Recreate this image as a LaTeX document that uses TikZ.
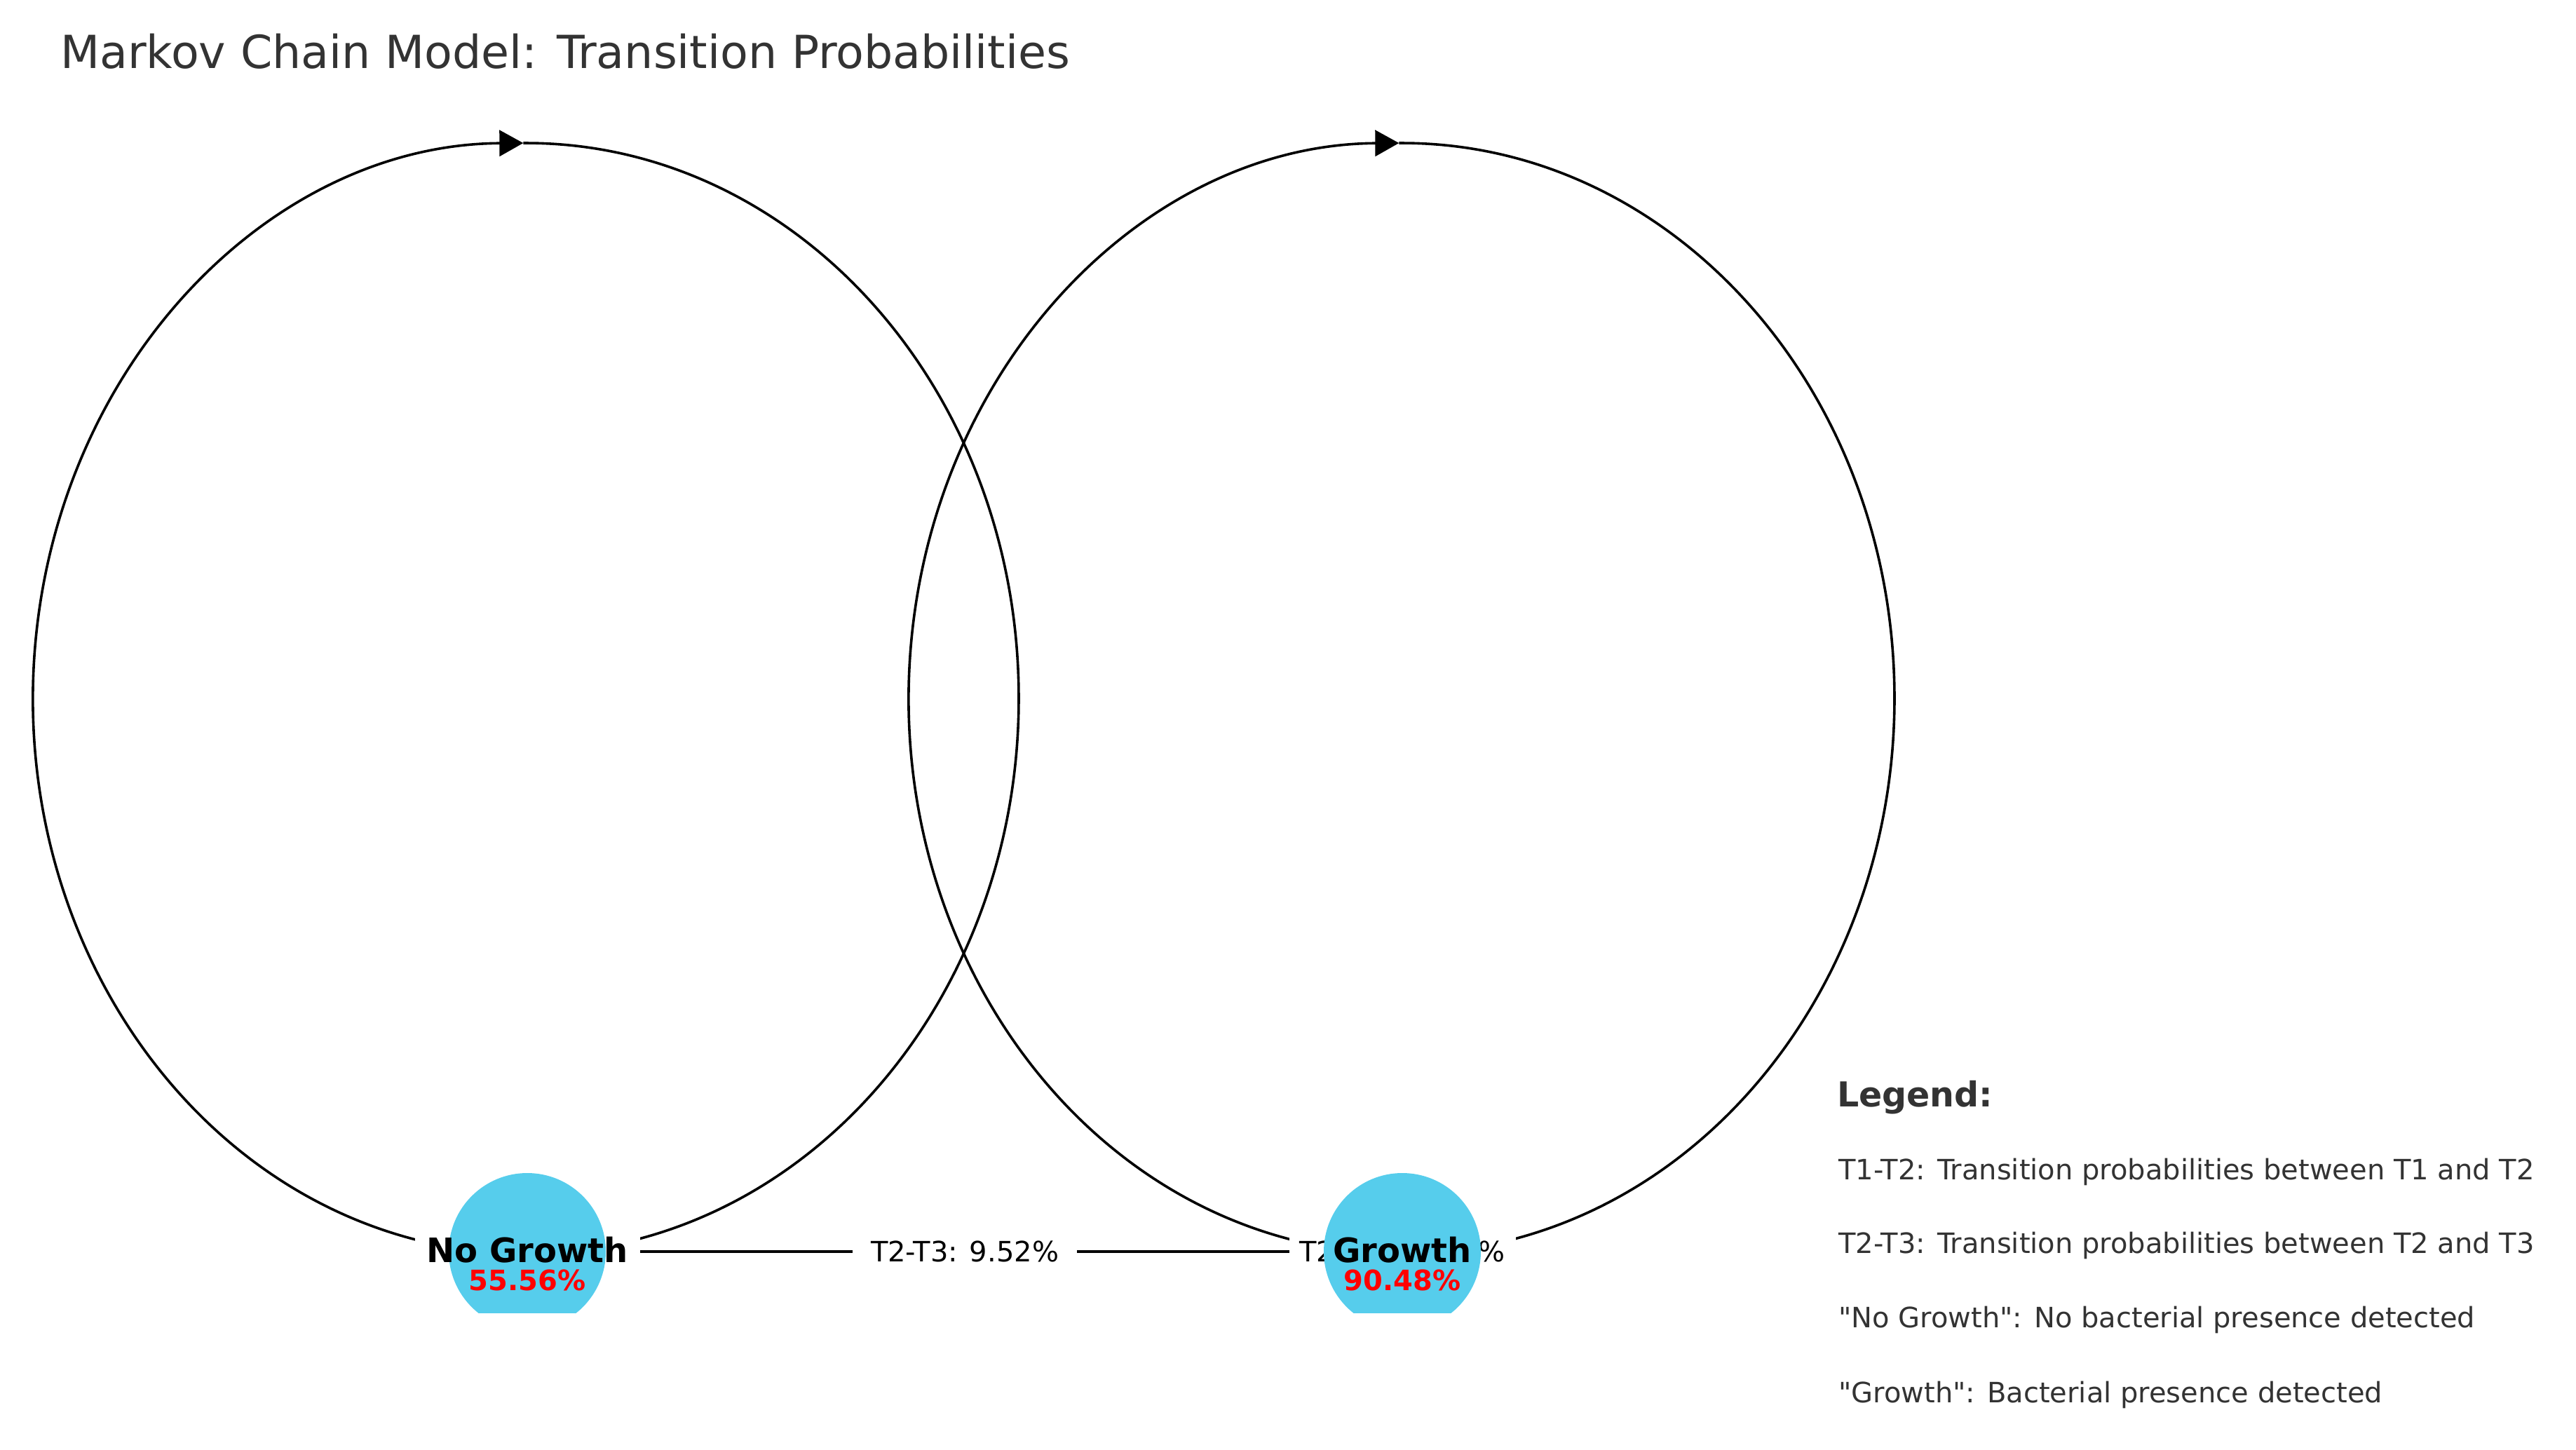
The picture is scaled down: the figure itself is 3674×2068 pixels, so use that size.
\documentclass[tikz,border=0pt]{standalone}
\usepackage{fontspec}
\setmainfont{DejaVu Sans}
\usetikzlibrary{arrows.meta,calc}
\definecolor{nodeblue}{RGB}{86,205,236}
\definecolor{txtgray}{RGB}{51,51,51}
\pgfdeclarelayer{bgfill}
\pgfdeclarelayer{edges}
\pgfsetlayers{bgfill,edges,main}
\begin{document}
\begin{tikzpicture}[x=1pt,y=-1pt,
  statenode/.style={circle, fill=nodeblue, minimum size=224pt, inner sep=0pt},
  nametext/.style={font=\fontsize{48}{52}\selectfont\bfseries, text=black, anchor=base, inner sep=0pt},
  pcttext/.style={font=\fontsize{40}{44}\selectfont\bfseries, text=red, anchor=base, inner sep=0pt},
  edgelabel/.style={fill=white, font=\fontsize{40}{44}\selectfont, text=black, inner sep=0pt, minimum height=60pt},
  conn/.style={line width=4pt, black},
  looparc/.style={line width=3.6pt, black},
  titletext/.style={font=\fontsize{65}{70}\selectfont, text=txtgray, anchor=base west, inner sep=0pt},
  legendtitle/.style={font=\fontsize{49}{54}\selectfont\bfseries, text=txtgray, anchor=base west, inner sep=0pt},
  legendtext/.style={font=\fontsize{40}{44}\selectfont, text=txtgray, anchor=base west, inner sep=0pt}]
\begin{pgfonlayer}{bgfill}
  \fill[white] (0,0) rectangle (3674,2068);
\end{pgfonlayer}
\useasboundingbox (0,0) rectangle (3674,2068);

\node[titletext] (title) at (86,98) {Markov Chain Model: Transition Probabilities};

% state nodes (clipped at the bottom like the reference)
\begin{scope}
  \clip (0,0) rectangle (3674,1872);
  \node[statenode] (ng) at (752,1785) {};
  \node[statenode] (gr) at (2000,1785) {};
\end{scope}
\node[nametext] (ngname) at (752,1800) {No Growth};
\node[pcttext] (ngpct) at (752,1840) {55.56\%};
\node[nametext] (grname) at (2000,1800) {Growth};
\node[pcttext] (grpct) at (2000,1840) {90.48\%};

\coordinate (cL) at ($(ng)+(-2,-789)$);
\coordinate (cR) at ($(gr)+(-1,-789)$);

\begin{pgfonlayer}{edges}
  % self loops
  \draw[looparc, -{Triangle[length=34pt,width=37pt]}] ([shift={(100:703 and 792)}]cL) arc[start angle=100, end angle=269.7, x radius=703, y radius=792];
  \draw[looparc] ([shift={(269.7:703 and 792)}]cL) arc[start angle=269.7, end angle=440, x radius=703, y radius=792];
  \draw[looparc, -{Triangle[length=34pt,width=37pt]}] ([shift={(100:703 and 792)}]cR) arc[start angle=100, end angle=269.7, x radius=703, y radius=792];
  \draw[looparc] ([shift={(269.7:703 and 792)}]cR) arc[start angle=269.7, end angle=440, x radius=703, y radius=792];
  % edge between states
  \draw[conn] (ng) -- node[edgelabel, minimum width=320pt] (lab) {T2-T3: 9.52\%} (gr);
  % loop labels
  \node[edgelabel, minimum width=321pt] (nglab) at (ng) {};
  \node[edgelabel, minimum width=323pt] (grlab) at (gr) {T2-T3: 90.48\%};
\end{pgfonlayer}

% legend
\node[legendtitle] (leg) at (2620,1578) {Legend:};
\node[legendtext] (l1) at (2622,1682) {T1-T2: Transition probabilities between T1 and T2};
\node[legendtext] (l2) at (2622,1787) {T2-T3: Transition probabilities between T2 and T3};
\node[legendtext] (l3) at (2622,1893) {\textquotedbl No Growth\textquotedbl: No bacterial presence detected};
\node[legendtext] (l4) at (2622,2000) {\textquotedbl Growth\textquotedbl: Bacterial presence detected};
\end{tikzpicture}
\end{document}
